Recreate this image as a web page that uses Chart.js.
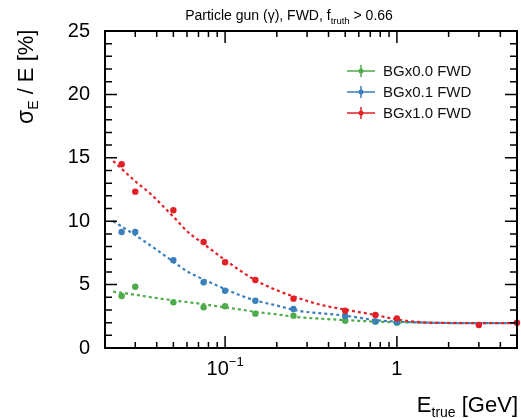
<!DOCTYPE html>
<html>
<head>
<meta charset="utf-8">
<script src="https://cdn.jsdelivr.net/npm/chart.js@4"></script>
<style>
  html, body { margin: 0; padding: 0; background: #fff; }
</style>
</head>
<body>
<canvas id="chart" width="521" height="418"></canvas>
<script>
// ==============================
// Data
// ==============================

// measured points
const pointEnergies = [0.025, 0.03, 0.05, 0.075, 0.1, 0.15, 0.25, 0.5, 0.75, 1.0, 3.0, 5.0];
const bg00Points = [4.10, 4.83, 3.60, 3.21, 3.29, 2.71, 2.55, 2.15, 2.08, 2.00, null, null];
const bg01Points = [9.15, 9.15, 6.92, 5.18, 4.52, 3.73, 3.08, 2.52, 2.10, 2.03, null, null];
const bg10Points = [14.49, 12.33, 10.86, 8.36, 6.76, 5.36, 3.89, 2.94, 2.60, 2.34, 1.81, 2.00];

// fitted curves (dashed)
const fitEnergies = [0.0223, 0.03, 0.0365, 0.05, 0.062, 0.071, 0.1, 0.121, 0.15, 0.2, 0.27, 0.35, 0.5, 0.75, 1, 1.5, 2, 3, 5];
const bg00Fit = [4.44, 4.20, 4.02, 3.75, 3.60, 3.50, 3.20, 3.05, 2.85, 2.65, 2.42, 2.32, 2.20, 2.08, 2.03, 2.00, 1.98, 1.97, 1.97];
const bg01Fit = [10.0, 8.90, 8.12, 6.80, 5.94, 5.55, 4.65, 4.18, 3.75, 3.35, 2.92, 2.75, 2.55, 2.20, 2.08, 2.00, 1.97, 1.96, 1.97];
const bg10Fit = [14.75, 13.15, 12.2, 10.35, 9.04, 8.45, 6.94, 6.15, 5.35, 4.55, 3.92, 3.45, 3.02, 2.60, 2.25, 2.00, 1.97, 1.96, 1.97];

const seriesLabels = ['BGx0.0 FWD', 'BGx0.1 FWD', 'BGx1.0 FWD'];
const seriesColors = ['rgb(77,172,74)', 'rgb(58,128,188)', 'rgb(226,32,38)'];

// axis ticks
const yMajorTicks = [0, 5, 10, 15, 20, 25];
const yMinorTicks = [1, 2, 3, 4, 6, 7, 8, 9, 11, 12, 13, 14, 16, 17, 18, 19, 21, 22, 23, 24];
const xMajorTicks = [0.1, 1];
const xTickLabels = [['10', '\u22121'], ['1', '']];
const xMinorTicks = [0.02, 0.03, 0.04, 0.05, 0.06, 0.07, 0.08, 0.09, 0.2, 0.3, 0.4, 0.5, 0.6, 0.7, 0.8, 0.9, 2, 3, 4, 5];

const FONT = "'Liberation Sans', Arial, Helvetica, sans-serif";

function toXY(xs, ys) {
    return xs.map((x, i) => ({ x: x, y: ys[i] }));
}

// ==============================
// Helpers
// ==============================

// text made of parts [{t, size, dy}]
function richWidth(ctx, parts) {
    let w = 0;
    parts.forEach(p => {
        ctx.font = p.size + 'px ' + FONT;
        w += ctx.measureText(p.t).width;
    });
    return w;
}

function drawRich(ctx, parts, x, y) {
    let cx = x;
    parts.forEach(p => {
        ctx.font = p.size + 'px ' + FONT;
        ctx.fillText(p.t, cx, y + (p.dy || 0));
        cx += ctx.measureText(p.t).width;
    });
}

// frame, inward ticks, labels, titles, legend
const decorPlugin = {
    id: 'decor',
    afterDraw(chart) {
        const ctx = chart.ctx;
        const area = chart.chartArea;
        const xs = chart.scales.x;
        const ys = chart.scales.y;

        ctx.save();
        ctx.strokeStyle = '#000';
        ctx.fillStyle = '#000';

        // frame
        ctx.lineWidth = 2;
        ctx.strokeRect(area.left, area.top, area.right - area.left, area.bottom - area.top);

        // ticks
        ctx.lineWidth = 1.5;
        ctx.beginPath();
        yMajorTicks.forEach(v => {
            const py = ys.getPixelForValue(v);
            ctx.moveTo(area.left, py); ctx.lineTo(area.left + 12, py);
            ctx.moveTo(area.right, py); ctx.lineTo(area.right - 12, py);
        });
        yMinorTicks.forEach(v => {
            const py = ys.getPixelForValue(v);
            ctx.moveTo(area.left, py); ctx.lineTo(area.left + 7, py);
            ctx.moveTo(area.right, py); ctx.lineTo(area.right - 7, py);
        });
        xMajorTicks.forEach(v => {
            const px = xs.getPixelForValue(v);
            ctx.moveTo(px, area.bottom); ctx.lineTo(px, area.bottom - 12);
            ctx.moveTo(px, area.top); ctx.lineTo(px, area.top + 12);
        });
        xMinorTicks.forEach(v => {
            const px = xs.getPixelForValue(v);
            ctx.moveTo(px, area.bottom); ctx.lineTo(px, area.bottom - 6);
            ctx.moveTo(px, area.top); ctx.lineTo(px, area.top + 6);
        });
        ctx.stroke();

        // x tick labels with superscript
        ctx.textBaseline = 'alphabetic';
        ctx.textAlign = 'left';
        xMajorTicks.forEach((v, i) => {
            const parts = [{ t: xTickLabels[i][0], size: 20 }, { t: xTickLabels[i][1], size: 13, dy: -9 }];
            const w = richWidth(ctx, parts);
            drawRich(ctx, parts, xs.getPixelForValue(v) - w / 2, 375);
        });

        // x axis title
        const xTitle = [{ t: 'E', size: 22 }, { t: 'true', size: 14, dy: 5 }, { t: ' [GeV]', size: 22 }];
        drawRich(ctx, xTitle, 518 - richWidth(ctx, xTitle), 412);

        // y axis title (rotated)
        const yTitle = [{ t: '\u03C3', size: 23 }, { t: 'E', size: 14, dy: 5 }, { t: ' / E [%]', size: 22 }];
        ctx.save();
        ctx.translate(33, 124);
        ctx.rotate(-Math.PI / 2);
        drawRich(ctx, yTitle, 0, 0);
        ctx.restore();

        // top title
        const title = [{ t: 'Particle gun (\u03B3), FWD, f', size: 14 }, { t: 'truth', size: 9.5, dy: 4 }, { t: ' > 0.66', size: 14 }];
        drawRich(ctx, title, 289 - richWidth(ctx, title) / 2, 20);

        // legend
        ctx.textBaseline = 'middle';
        const legendY = [71, 92, 113];
        seriesLabels.forEach((label, i) => {
            const y = legendY[i];
            ctx.strokeStyle = seriesColors[i];
            ctx.fillStyle = seriesColors[i];
            ctx.lineWidth = 1.5;
            ctx.beginPath();
            ctx.moveTo(347, y); ctx.lineTo(375, y);
            ctx.moveTo(361, y - 6); ctx.lineTo(361, y + 6);
            ctx.stroke();
            ctx.beginPath();
            ctx.arc(361, y, 2.5, 0, Math.PI * 2);
            ctx.fill();
            ctx.fillStyle = '#111';
            ctx.font = '15px ' + FONT;
            ctx.fillText(label, 383, y + 1);
        });

        ctx.restore();
    }
};

// ==============================
// Chart
// ==============================

const fitSets = [bg00Fit, bg01Fit, bg10Fit];
const pointSets = [bg00Points, bg01Points, bg10Points];
const datasets = [];

fitSets.forEach((fit, i) => {
    datasets.push({
        label: seriesLabels[i] + ' fit',
        data: toXY(fitEnergies, fit),
        borderColor: seriesColors[i],
        borderWidth: 2.2,
        borderDash: [3, 3],
        pointRadius: 0,
        showLine: true,
        fill: false,
        cubicInterpolationMode: 'monotone',
        order: 10 - i
    });
});

pointSets.forEach((pts, i) => {
    datasets.push({
        label: seriesLabels[i],
        data: toXY(pointEnergies, pts),
        showLine: false,
        pointRadius: 3.2,
        pointBackgroundColor: seriesColors[i],
        pointBorderWidth: 0,
        clip: false,
        order: 3 - i
    });
});

new Chart(document.getElementById('chart'), {
    type: 'line',
    data: { datasets: datasets },
    options: {
        responsive: false,
        animation: false,
        devicePixelRatio: 1,
        layout: { padding: { left: 0, top: 31, right: 2, bottom: 0 } },
        plugins: {
            legend: { display: false },
            title: { display: false },
            tooltip: { enabled: false }
        },
        scales: {
            x: {
                type: 'logarithmic',
                min: 0.02,
                max: 5,
                grid: { display: false, drawTicks: false },
                border: { display: false },
                ticks: { display: false },
                afterFit: scale => { scale.height = 70; }
            },
            y: {
                type: 'linear',
                min: 0,
                max: 25,
                grid: { display: false, drawTicks: false },
                border: { display: false },
                afterBuildTicks: scale => { scale.ticks = yMajorTicks.map(v => ({ value: v })); },
                ticks: {
                    color: '#000',
                    padding: 15,
                    font: { family: FONT, size: 20 }
                },
                afterFit: scale => { scale.width = 105; }
            }
        }
    },
    plugins: [decorPlugin]
});
</script>
</body>
</html>
